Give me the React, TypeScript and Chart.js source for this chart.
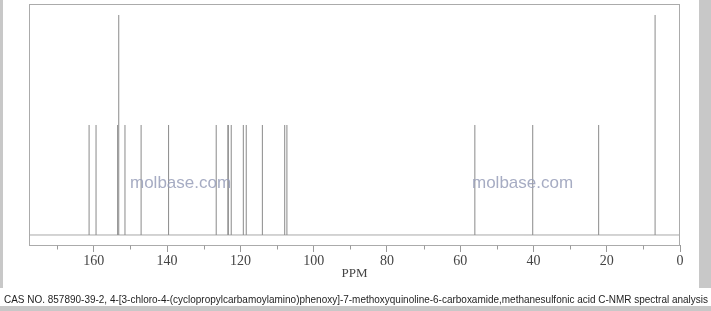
import { useEffect, useRef } from 'react';
import { Chart, registerables } from 'chart.js';

Chart.register(...registerables);

// 13C-NMR peak positions (ppm) and relative heights
const peakShifts = [161.3, 159.4, 153.5, 153.2, 151.5, 147.1, 139.6, 126.6, 123.4, 123.3, 122.5, 119.2, 118.4, 114.0, 107.9, 107.3, 56.0, 40.2, 22.2, 6.8];
const peakHeights = [0.5, 0.5, 0.5, 1.0, 0.5, 0.5, 0.5, 0.5, 0.5, 0.5, 0.5, 0.5, 0.5, 0.5, 0.5, 0.5, 0.5, 0.5, 0.5, 1.0];
const minorTickValues = [170, 150, 130, 110, 90, 70, 50, 30, 10];
const axisTitle = 'PPM';
const caption = 'CAS NO. 857890-39-2, 4-[3-chloro-4-(cyclopropylcarbamoylamino)phenoxy]-7-methoxyquinoline-6-carboxamide,methanesulfonic acid C-NMR spectral analysis';
const watermark = 'molbase.com';

const W = 711;
const H = 311;

const decorPlugin = {
  id: 'decor',
  beforeDraw(chart: any) {
    const { ctx } = chart;
    ctx.save();
    ctx.fillStyle = '#ffffff';
    ctx.fillRect(0, 0, W, H);
    ctx.fillStyle = '#c8c8c8';
    ctx.fillRect(0, 0, 3, 288);
    ctx.fillRect(699, 0, 12, 288);
    ctx.fillRect(0, 306, W, 5);
    ctx.restore();
  },
  afterDatasetsDraw(chart: any) {
    const { ctx } = chart;
    ctx.save();
    ctx.fillStyle = 'rgba(150,158,185,0.85)';
    ctx.font = "17px 'Liberation Sans', Arial, sans-serif";
    ctx.textBaseline = 'alphabetic';
    ctx.fillText(watermark, 130, 188);
    ctx.fillText(watermark, 472, 188);
    ctx.restore();
  },
  afterDraw(chart: any) {
    const { ctx, chartArea } = chart;
    const xs = chart.scales.x;
    ctx.save();
    ctx.strokeStyle = '#ababab';
    ctx.lineWidth = 1;
    const l = Math.round(chartArea.left) + 0.5;
    const r = Math.round(chartArea.right) - 0.5;
    const t = Math.round(chartArea.top) + 0.5;
    const b = Math.round(chartArea.bottom) + 0.5;
    ctx.strokeRect(l, t, r - l, b - t);
    // minor ticks
    ctx.strokeStyle = '#9a9a9a';
    for (const v of minorTickValues) {
      const px = Math.round(xs.getPixelForValue(v)) + 0.5;
      ctx.beginPath();
      ctx.moveTo(px, b);
      ctx.lineTo(px, b + 4);
      ctx.stroke();
    }
    // caption
    ctx.fillStyle = '#1e1e1e';
    ctx.font = "11px 'Liberation Sans', Arial, sans-serif";
    ctx.textBaseline = 'alphabetic';
    const tw = ctx.measureText(caption).width;
    const target = 704;
    ctx.translate(4, 303);
    ctx.scale(target / tw, 1);
    ctx.fillText(caption, 0, 0);
    ctx.restore();
  },
};

export default function App() {
  const ref = useRef<HTMLCanvasElement>(null);
  useEffect(() => {
    if (!ref.current) return;
    const peakData: any[] = [];
    peakShifts.forEach((p, i) => {
      peakData.push({ x: p, y: 0 });
      peakData.push({ x: p, y: peakHeights[i] });
      peakData.push({ x: p, y: null });
    });
    const chart = new Chart(ref.current, {
      type: 'line',
      data: {
        datasets: [
          {
            data: peakData,
            borderColor: '#8a8a8a',
            borderWidth: 1,
            pointRadius: 0,
            spanGaps: false,
            tension: 0,
          },
          {
            data: [{ x: 0, y: 0 }, { x: 178, y: 0 }],
            borderColor: '#a8a8a8',
            borderWidth: 1,
            pointRadius: 0,
          },
        ],
      },
      plugins: [decorPlugin],
      options: {
        animation: false,
        responsive: false,
        events: [],
        layout: { padding: { left: 29, right: 31, top: 4, bottom: 0 } },
        plugins: { legend: { display: false }, tooltip: { enabled: false } },
        scales: {
          x: {
            type: 'linear',
            reverse: true,
            min: 0,
            max: 177.7,
            afterFit: (s: any) => {
              s.height = 66;
            },
            border: { display: false },
            grid: {
              drawOnChartArea: false,
              drawTicks: true,
              tickLength: 7,
              color: (c: any) => (c.tick && Math.abs(c.tick.value % 20) < 1e-6 ? '#9a9a9a' : 'rgba(0,0,0,0)'),
            },
            ticks: {
              stepSize: 10,
              autoSkip: false,
              maxRotation: 0,
              padding: 1,
              color: '#444444',
              font: { family: "'Liberation Serif', 'Times New Roman', serif", size: 14 },
              callback: (v: any) => (Math.abs(Number(v) % 20) < 1e-6 ? String(v) : ''),
            },
            title: {
              display: true,
              text: axisTitle,
              color: '#444444',
              font: { family: "'Liberation Serif', 'Times New Roman', serif", size: 13 },
              padding: { top: 0, bottom: 30 },
            },
          },
          y: {
            type: 'linear',
            display: false,
            min: -0.0455,
            max: 1.05,
          },
        },
      },
    });
    return () => chart.destroy();
  }, []);
  return (
    <div style={{ position: 'absolute', left: 0, top: 0, width: W, height: H }}>
      <canvas ref={ref} width={W} height={H} style={{ width: W, height: H, display: 'block' }} />
    </div>
  );
}
